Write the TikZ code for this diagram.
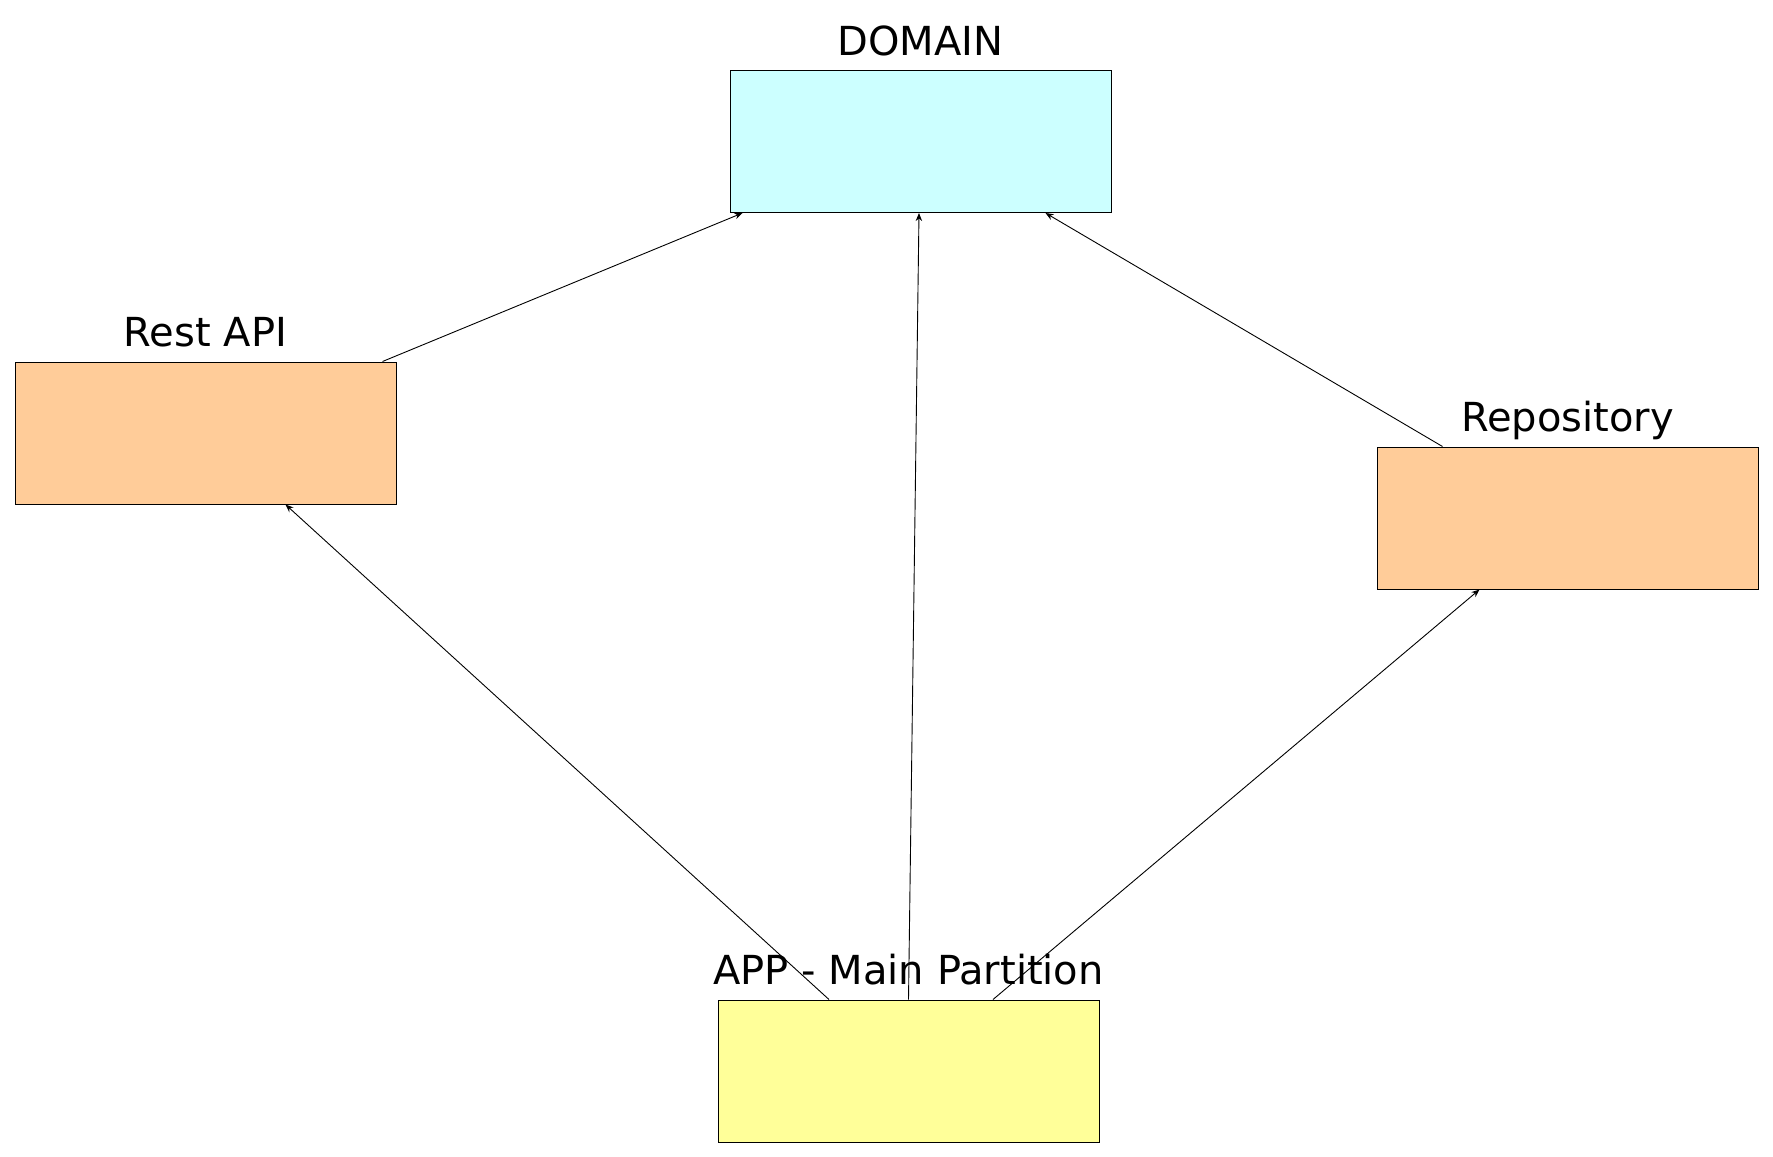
\documentclass[tikz,border=0pt]{standalone}
\usepackage{fontspec}
\setmainfont{DejaVu Sans}
\usepackage{tikz}
\usetikzlibrary{arrows,arrows.meta,positioning,shapes}

\definecolor{domcol}{HTML}{CCFFFF}
\definecolor{outcol}{HTML}{FFCC99}
\definecolor{appcol}{HTML}{FFFF99}

\begin{document}
\begin{tikzpicture}[x=0.5pt, y=-0.5pt,
    part/.style={draw, line width=0.5pt, minimum width=190.5pt, minimum height=71pt, inner sep=0pt},
    title/.style={anchor=base, font=\fontsize{20}{24}\selectfont},
    dep/.style={->, >={Stealth[length=4pt, width=3.2pt]}, line width=0.45pt}]
  \useasboundingbox (0,0) rectangle (1773,1157);
  \node[part, fill=domcol] (Dom) at (920.5, 141.5) {};
  \node[part, fill=outcol] (Rest) at (205.5, 433) {};
  \node[part, fill=outcol] (Repo) at (1567.5, 518) {};
  \node[part, fill=appcol] (App) at (908.5, 1071) {};
  \node[title] (DomT) at ([yshift=7.5pt]Dom.north) {DOMAIN};
  \node[title] (RestT) at ([yshift=7.5pt]Rest.north) {Rest API};
  \node[title] (RepoT) at ([yshift=7.5pt]Repo.north) {Repository};
  \node[title] (AppT) at ([yshift=7.5pt]App.north) {APP - Main Partition};
  \draw[dep] ([xshift=-7pt]Rest.north east) -- ([xshift=6.5pt]Dom.south west);
  \draw[dep] (App.north) -- ([xshift=-0.75pt]Dom.south);
  \draw[dep] ([xshift=33pt]Repo.north west) -- ([xshift=-33pt]Dom.south east);
  \draw[dep] ([xshift=-39.75pt]App.north) -- ([xshift=-55.5pt]Rest.south east);
  \draw[dep] ([xshift=42.25pt]App.north) -- ([xshift=51.5pt]Repo.south west);
\end{tikzpicture}
\end{document}
